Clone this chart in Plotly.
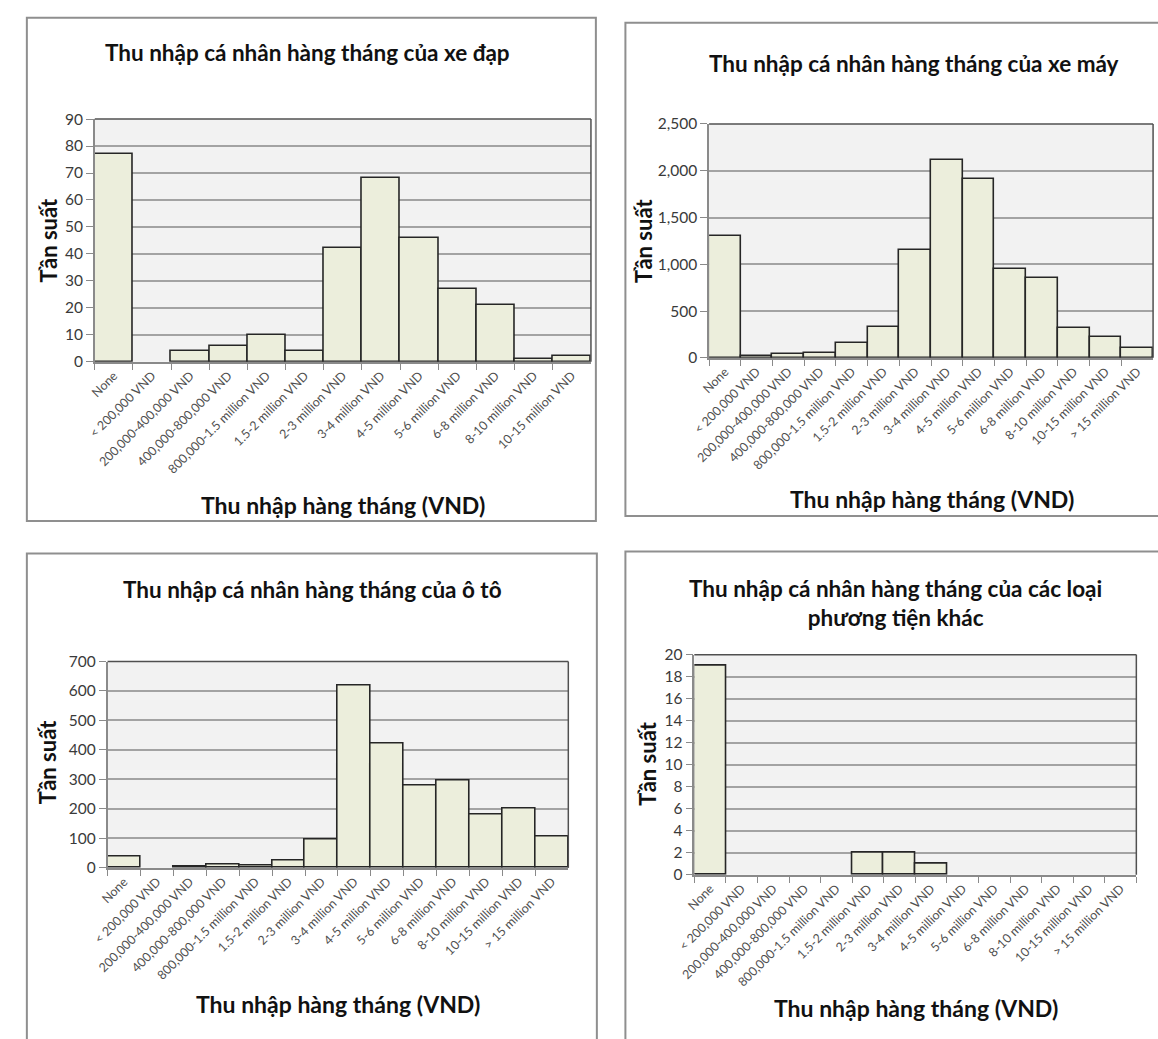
import plotly.graph_objects as go

W, H = 1158, 1039

# Income brackets (x categories)
categories = [
    "None", "< 200,000 VND", "200,000-400,000 VND", "400,000-800,000 VND",
    "800,000-1.5 million VND", "1.5-2 million VND", "2-3 million VND",
    "3-4 million VND", "4-5 million VND", "5-6 million VND", "6-8 million VND",
    "8-10 million VND", "10-15 million VND", "> 15 million VND",
]

# Frequencies per income bracket for each vehicle type
bicycle = [77, 0, 4, 6, 10, 4, 42, 68, 46, 27, 21, 1, 2]
motorbike = [1305, 17, 45, 52, 157, 332, 1155, 2110, 1915, 945, 855, 322, 228, 105]
car = [37, 0, 3, 11, 8, 26, 96, 620, 423, 278, 298, 180, 201, 107]
other = [19, 0, 0, 0, 0, 2, 2, 1, 0, 0, 0, 0, 0, 0]

titles = [
    "Thu nhập cá nhân hàng tháng của xe đạp",
    "Thu nhập cá nhân hàng tháng của xe máy",
    "Thu nhập cá nhân hàng tháng của ô tô",
    "Thu nhập cá nhân hàng tháng của các loại<br>phương tiện khác",
]
x_title = "Thu nhập hàng tháng (VND)"
y_title = "Tần suất"

FONT = "Lato"
BAR_FILL = "#ECEEDC"
BAR_EDGE = "#262626"
GRID = "#a3a3a3"
AXIS = "#8a8a8a"
FRAME = "#505050"
BORDER = "#8f8f8f"

# Layout of each chart in page pixels: frame box (may run past the page edge),
# plot box, title/axis-title anchors
panels = [
    dict(values=bicycle, ymax=90, dtick=10, fmt="d",
         frame=(9, 8, 587, 520), plot=(78, 111, 582, 358),
         title_xy=(294, 43), xt_xy=(330, 504), yt_xy=(31, 235)),
    dict(values=motorbike, ymax=2500, dtick=500, fmt=",d",
         frame=(617, 13, 1200, 515), plot=(702, 116, 1153, 354),
         title_xy=(910, 54), xt_xy=(928, 498), yt_xy=(636, 235)),
    dict(values=car, ymax=700, dtick=100, fmt="d",
         frame=(9, 553, 588, 1090), plot=(91, 663, 559, 873),
         title_xy=(299, 590), xt_xy=(325, 1012), yt_xy=(30, 766)),
    dict(values=other, ymax=20, dtick=2, fmt="d",
         frame=(617, 551, 1200, 1090), plot=(687, 656, 1136, 880),
         title_xy=(891, 603), xt_xy=(912, 1016), yt_xy=(640, 767)),
]


def px(x):
    return x / W


def py(y):
    return 1 - y / H


fig = go.Figure()
layout = dict(
    width=W, height=H,
    margin=dict(l=0, r=0, t=0, b=0),
    paper_bgcolor="white",
    plot_bgcolor="#F2F2F2",
    showlegend=False,
    bargap=0,
    font=dict(family=FONT, color="#404040"),
)
shapes = []
annotations = []

for i, p in enumerate(panels):
    n = i + 1
    xa = "x" if n == 1 else f"x{n}"
    ya = "y" if n == 1 else f"y{n}"
    cats = categories[: len(p["values"])]
    # zero-count brackets have no visible bar
    yvals = [v if v else None for v in p["values"]]
    fig.add_trace(go.Bar(
        x=cats, y=yvals, xaxis=xa, yaxis=ya,
        marker=dict(color=BAR_FILL, line=dict(color=BAR_EDGE, width=1.6)),
        hoverinfo="x+y",
    ))
    l, t, r, b = p["plot"]
    layout["xaxis" if n == 1 else f"xaxis{n}"] = dict(
        domain=[px(l), px(r)], anchor=ya,
        type="category", showgrid=False,
        showline=True, linecolor=AXIS, linewidth=1.5,
        ticks="outside", tickson="boundaries", ticklen=6, tickcolor=AXIS,
        tickangle=-45, tickfont=dict(size=12.5, color="#505050", family=FONT),
        range=[-0.5, len(cats) - 0.5],
    )
    layout["yaxis" if n == 1 else f"yaxis{n}"] = dict(
        domain=[py(b), py(t)], anchor=xa,
        range=[0, p["ymax"]], dtick=p["dtick"], tickformat=p["fmt"],
        showgrid=True, gridcolor=GRID, gridwidth=1.5,
        showline=True, linecolor=AXIS, linewidth=1.5,
        ticks="outside", ticklen=7, tickcolor=AXIS,
        tickfont=dict(size=15.5, color="#3a3a3a", family=FONT),
        zeroline=False,
    )
    # darker frame on top and right of the plot area
    shapes.append(dict(type="line", xref=f"{xa} domain", yref=f"{ya} domain",
                       x0=0, x1=1, y0=1, y1=1,
                       line=dict(color=FRAME, width=1.5)))
    shapes.append(dict(type="line", xref=f"{xa} domain", yref=f"{ya} domain",
                       x0=1, x1=1, y0=0, y1=1,
                       line=dict(color=FRAME, width=1.5)))
    # outer chart border
    fl, ft, fr, fb = p["frame"]
    shapes.append(dict(type="rect", xref="paper", yref="paper",
                       x0=px(fl), x1=px(fr), y0=py(fb), y1=py(ft),
                       line=dict(color=BORDER, width=2), layer="below"))
    tx, ty = p["title_xy"]
    annotations.append(dict(text=f"<b>{titles[i]}</b>", xref="paper", yref="paper",
                            x=px(tx), y=py(ty), xanchor="center", yanchor="middle",
                            showarrow=False, align="center",
                            font=dict(size=22.5, color="#111111", family=FONT)))
    xx, xy = p["xt_xy"]
    annotations.append(dict(text=f"<b>{x_title}</b>", xref="paper", yref="paper",
                            x=px(xx), y=py(xy), xanchor="center", yanchor="middle",
                            showarrow=False,
                            font=dict(size=23, color="#111111", family=FONT)))
    yx, yy = p["yt_xy"]
    annotations.append(dict(text=f"<b>{y_title}</b>", xref="paper", yref="paper",
                            x=px(yx), y=py(yy), xanchor="center", yanchor="middle",
                            showarrow=False, textangle=-90,
                            font=dict(size=22, color="#111111", family=FONT)))

layout["shapes"] = shapes
layout["annotations"] = annotations
fig.update_layout(**layout)
# the figure fills the whole page, so drop the body's default margin
fig.write_html("out.html", post_script="document.body.style.margin = '0';")
